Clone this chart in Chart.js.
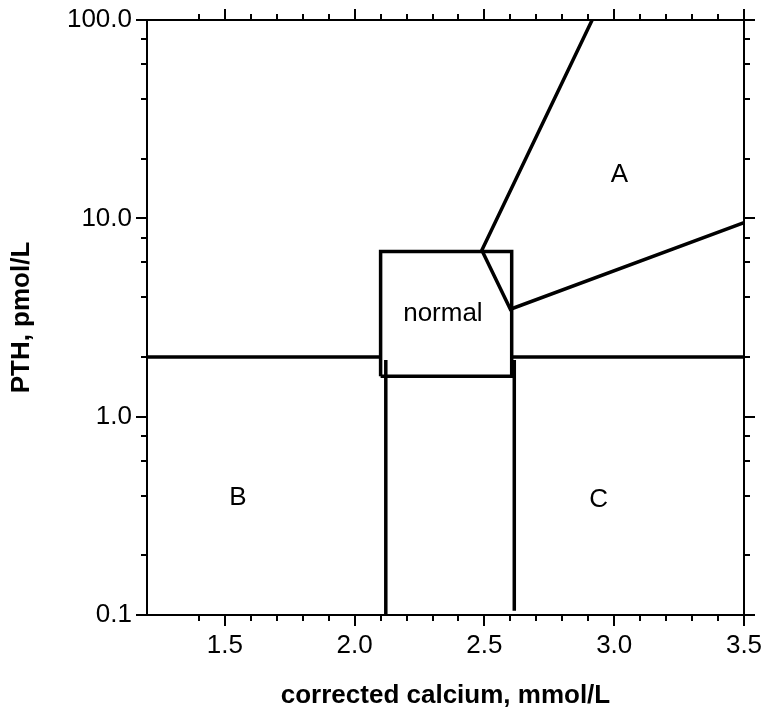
<!DOCTYPE html>
<html>
<head>
<meta charset="utf-8">
<script src="https://cdn.jsdelivr.net/npm/chart.js@4.4.1/dist/chart.umd.min.js"></script>
<style>
  html, body { margin: 0; padding: 0; background: #fff; }
</style>
</head>
<body>
<canvas id="pthChart" width="765" height="713"></canvas>
<script>
// axis ticks
const xMajor = [1.5, 2.0, 2.5, 3.0, 3.5];
const xMinor = [1.4, 1.6, 1.7, 1.8, 1.9, 2.1, 2.2, 2.3, 2.4, 2.6, 2.7, 2.8, 2.9, 3.1, 3.2, 3.3, 3.4];
const yMajor = [0.1, 1, 10, 100];
const yMinor = [0.2, 0.4, 0.6, 0.8, 2, 4, 6, 8, 20, 40, 60, 80];

// boundary lines (corrected calcium, PTH)
const lowPthLeft = [[1.2, 2.0], [2.1, 2.0]];
const lowPthRight = [[2.61, 2.0], [3.5, 2.0]];
const normalBox = [[2.1, 1.6], [2.605, 1.6], [2.605, 6.8], [2.1, 6.8], [2.1, 1.6]];
const lowCaLine = [[2.12, 1.93], [2.12, 0.1]];
const highCaLine = [[2.615, 1.93], [2.615, 0.105]];
const regionA = [[2.915, 100], [2.49, 6.9], [2.6, 3.48], [3.5, 9.5]];

// region labels
const regionText = ['A', 'B', 'C', 'normal'];
const regionX = [3.02, 1.55, 2.94, 2.34];
const regionY = [16.5, 0.39, 0.38, 3.3];
const regionSize = [26, 26, 26, 26];

Chart.defaults.font.family = "'Liberation Sans', Arial, sans-serif";
Chart.defaults.color = '#000';

function toPoints(arr) {
    return arr.map(p => ({ x: p[0], y: p[1] }));
}

function lineSet(arr) {
    return {
        data: toPoints(arr),
        showLine: true,
        borderColor: '#000',
        borderWidth: 3.5,
        pointRadius: 0,
        tension: 0,
        fill: false
    };
}

// keep label overhang out of the layout, padding is set by hand
function noOverhang(s) {
    s.paddingTop = 0;
    s.paddingBottom = 0;
    s.paddingLeft = 0;
    s.paddingRight = 0;
}

// frame with outward ticks on all four sides
const frameTicks = {
    id: 'frameTicks',
    afterDatasetsDraw(chart) {
        const { ctx, chartArea: a, scales: { x, y } } = chart;
        ctx.save();
        ctx.strokeStyle = '#000';
        ctx.lineWidth = 2;
        ctx.strokeRect(a.left, a.top, a.right - a.left, a.bottom - a.top);

        ctx.beginPath();
        const xt = xMajor.map(v => [v, 11]).concat(xMinor.map(v => [v, 6]));
        xt.forEach(([v, len]) => {
            const px = Math.round(x.getPixelForValue(v));
            ctx.moveTo(px, a.bottom); ctx.lineTo(px, a.bottom + len);
            ctx.moveTo(px, a.top); ctx.lineTo(px, a.top - len);
        });
        const yt = yMajor.map(v => [v, 11]).concat(yMinor.map(v => [v, 6]));
        yt.forEach(([v, len]) => {
            const py = Math.round(y.getPixelForValue(v));
            ctx.moveTo(a.left - len, py); ctx.lineTo(a.left, py);
            ctx.moveTo(a.right, py); ctx.lineTo(a.right + len, py);
        });
        ctx.stroke();

        // region names
        ctx.fillStyle = '#000';
        ctx.textAlign = 'center';
        ctx.textBaseline = 'middle';
        regionText.forEach((t, i) => {
            ctx.font = regionSize[i] + "px 'Liberation Sans', Arial, sans-serif";
            ctx.fillText(t, x.getPixelForValue(regionX[i]), y.getPixelForValue(regionY[i]));
        });
        ctx.restore();
    }
};

new Chart(document.getElementById('pthChart'), {
    type: 'scatter',
    data: {
        datasets: [
            lineSet(lowPthLeft),
            lineSet(lowPthRight),
            lineSet(normalBox),
            lineSet(lowCaLine),
            lineSet(highCaLine),
            lineSet(regionA)
        ]
    },
    options: {
        responsive: false,
        animation: false,
        devicePixelRatio: 1,
        layout: {
            padding: { top: 20, right: 21, left: 0, bottom: 0 }
        },
        plugins: {
            legend: { display: false },
            tooltip: { enabled: false }
        },
        scales: {
            x: {
                type: 'linear',
                min: 1.2,
                max: 3.5,
                afterBuildTicks: s => { s.ticks = xMajor.map(v => ({ value: v })); },
                afterFit: s => { s.height = 98; noOverhang(s); },
                grid: { display: false, drawTicks: false },
                border: { display: false },
                ticks: {
                    callback: v => Number(v).toFixed(1),
                    font: { size: 26 },
                    padding: 15,
                    maxRotation: 0,
                    autoSkip: false
                },
                title: {
                    display: true,
                    text: 'corrected calcium, mmol/L',
                    font: { size: 26, weight: 'bold' },
                    padding: { top: 0, bottom: 2 }
                }
            },
            y: {
                type: 'logarithmic',
                min: 0.1,
                max: 100,
                afterBuildTicks: s => { s.ticks = yMajor.map(v => ({ value: v })); },
                afterFit: s => { s.width = 147; noOverhang(s); },
                grid: { display: false, drawTicks: false },
                border: { display: false },
                ticks: {
                    callback: v => Number(v).toFixed(1),
                    font: { size: 26 },
                    padding: 15,
                    autoSkip: false
                },
                title: {
                    display: true,
                    text: 'PTH, pmol/L',
                    font: { size: 26, weight: 'bold' },
                    padding: { top: 6, bottom: 0 }
                }
            }
        }
    },
    plugins: [frameTicks]
});
</script>
</body>
</html>
